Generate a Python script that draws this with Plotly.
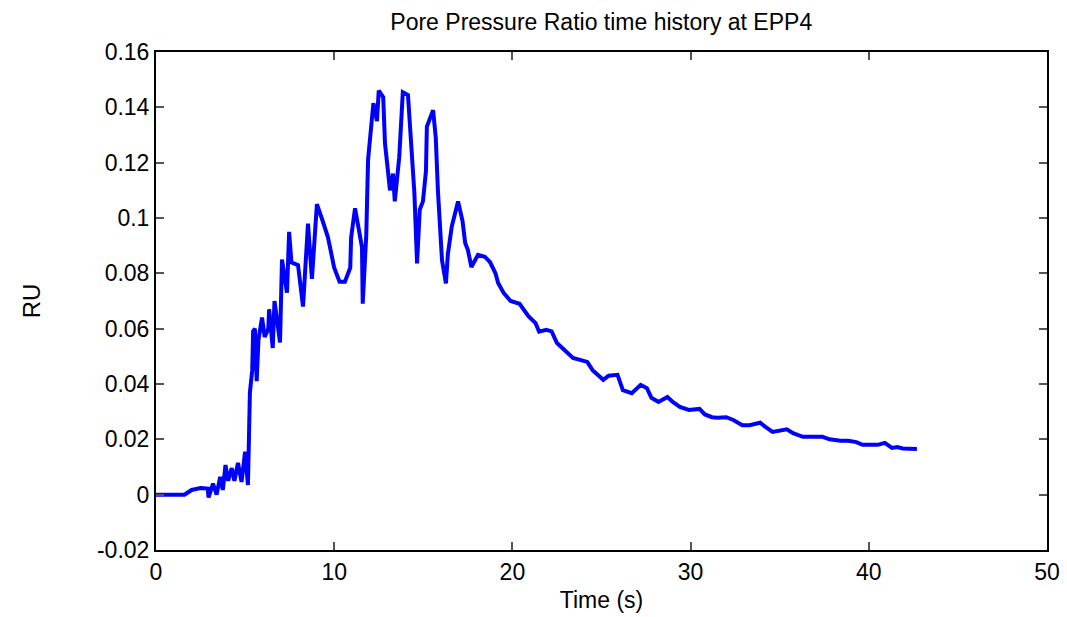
import plotly.graph_objects as go

time_s = [0, 1.6, 2.0, 2.5, 2.9, 2.95, 3.2, 3.4, 3.6, 3.75, 3.9, 4.05, 4.25, 4.4, 4.6, 4.8, 5.0, 5.16,
          5.27, 5.4, 5.45, 5.55, 5.65, 5.75, 5.95, 6.1, 6.3, 6.35, 6.55, 6.65, 6.96, 7.07, 7.35, 7.47,
          7.6, 7.97, 8.25, 8.53, 8.75, 9.03, 9.35, 9.65, 10.0, 10.3, 10.6, 10.9, 10.95, 11.17, 11.35,
          11.56, 11.6, 11.8, 11.9, 12.1, 12.2, 12.4, 12.5, 12.75, 12.85, 13.0, 13.13, 13.3, 13.4, 13.65,
          13.8, 13.85, 14.14, 14.25, 14.4, 14.5, 14.65, 14.8, 14.98, 15.15, 15.2, 15.55, 15.7, 15.82,
          16.05, 16.27, 16.38, 16.6, 16.95, 17.2, 17.35, 17.5, 17.7, 18.07, 18.45, 18.75, 19.05, 19.2,
          19.5, 19.9, 20.4, 20.9, 21.3, 21.5, 21.9, 22.2, 22.5, 23.1, 23.4, 24.2, 24.5, 25.1, 25.4,
          25.9, 26.2, 26.7, 27.2, 27.55, 27.8, 28.2, 28.7, 29.0, 29.4, 29.9, 30.5, 30.8, 31.2, 31.5,
          32.0, 32.4, 32.9, 33.3, 33.9, 34.2, 34.6, 35.4, 35.75, 36.3, 36.9, 37.4, 37.8, 38.4, 38.85,
          39.3, 39.65, 40.5, 40.9, 41.3, 41.6, 41.9, 42.7]
ru = [0, 0, 0.0017, 0.0024, 0.0022, -0.001, 0.004, 0.0, 0.0064, 0.0017, 0.0107, 0.005, 0.0096, 0.005,
      0.0115, 0.0046, 0.0155, 0.0035, 0.037, 0.045, 0.059, 0.060, 0.041, 0.056, 0.064, 0.057, 0.060,
      0.067, 0.053, 0.070, 0.055, 0.085, 0.073, 0.095, 0.084, 0.083, 0.068, 0.098, 0.078, 0.105, 0.099,
      0.093, 0.082, 0.077, 0.077, 0.082, 0.093, 0.1035, 0.097, 0.0894, 0.069, 0.094, 0.121, 0.133,
      0.1415, 0.135, 0.146, 0.1437, 0.127, 0.118, 0.110, 0.116, 0.106, 0.122, 0.138, 0.1455, 0.1445,
      0.133, 0.118, 0.109, 0.0836, 0.103, 0.106, 0.117, 0.133, 0.139, 0.129, 0.110, 0.0847, 0.0764,
      0.087, 0.097, 0.106, 0.099, 0.091, 0.0885, 0.0823, 0.0867, 0.086, 0.084, 0.080, 0.0765, 0.073,
      0.070, 0.069, 0.0645, 0.062, 0.0589, 0.0596, 0.0590, 0.0548, 0.0512, 0.0494, 0.048, 0.045,
      0.0415, 0.043, 0.0433, 0.0378, 0.0367, 0.0397, 0.0385, 0.035, 0.0335, 0.0353, 0.0335, 0.0317,
      0.0306, 0.031, 0.029, 0.028, 0.0278, 0.028, 0.027, 0.0251, 0.0251, 0.026, 0.0245, 0.0227,
      0.0236, 0.0222, 0.0209, 0.021, 0.0209, 0.020, 0.0195, 0.0195, 0.019, 0.018, 0.018, 0.0187,
      0.0169, 0.0172, 0.0167, 0.0165]

x_ticks = [0, 10, 20, 30, 40, 50]
y_ticks = [-0.02, 0, 0.02, 0.04, 0.06, 0.08, 0.1, 0.12, 0.14, 0.16]
y_tick_labels = ["-0.02", "0", "0.02", "0.04", "0.06", "0.08", "0.1", "0.12", "0.14", "0.16"]

font = "Liberation Sans, Arial, sans-serif"

fig = go.Figure()
fig.add_trace(go.Scatter(x=time_s, y=ru, mode="lines",
                         line=dict(color="#0000FF", width=4), showlegend=False))

fig.update_layout(
    width=1067, height=617,
    margin=dict(l=156, r=20, t=52, b=67),
    paper_bgcolor="white", plot_bgcolor="white",
    font=dict(family=font, size=23, color="black"),
    title=dict(text="Pore Pressure Ratio time history at EPP4", x=0.5635, xanchor="center",
               y=0.964, yanchor="middle", font=dict(size=23)),
)
fig.update_xaxes(range=[0, 50], tickvals=x_ticks, ticks="inside", ticklen=8, tickwidth=1.5,
                 tickcolor="#555", showline=True, linecolor="black", linewidth=2, mirror="ticks",
                 showgrid=False, zeroline=False, tickfont=dict(size=23), automargin=False,
                 title=dict(text="Time (s)", standoff=8, font=dict(size=23)))
fig.update_yaxes(range=[-0.02, 0.16], tickvals=y_ticks, ticktext=y_tick_labels, ticks="inside",
                 ticklen=8, tickwidth=1.5, tickcolor="#555", showline=True, linecolor="black",
                 linewidth=2, mirror="ticks", showgrid=False, zeroline=False, tickfont=dict(size=23),
                 automargin=False,
                 title=dict(text="RU", standoff=50, font=dict(size=24)))

fig.write_html("out.html")
